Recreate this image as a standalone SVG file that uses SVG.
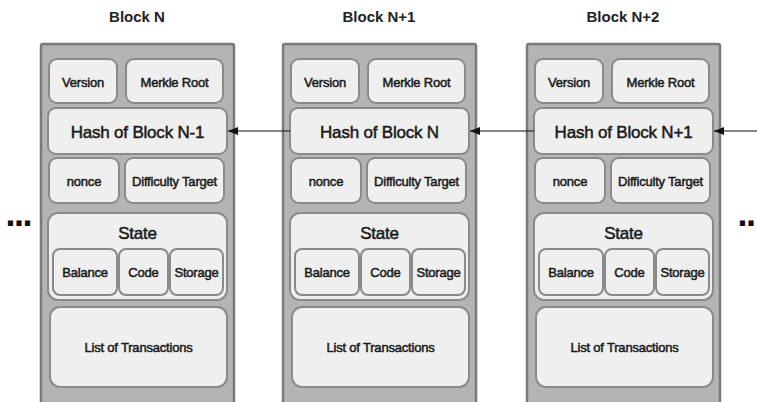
<svg xmlns="http://www.w3.org/2000/svg" width="757" height="402" viewBox="0 0 757 402">
  <defs>
    <style>
      .title { font-family: "Liberation Sans", Arial, sans-serif; font-size: 15px; font-weight: bold; fill: #222; text-anchor: middle; }
      .frame { fill: #b4b4b4; stroke: #7a7a7a; stroke-width: 2.5; }
      .field { fill: #efefef; stroke: #8a8a8a; stroke-width: 2; }
      .lbl { font-family: "Liberation Sans", Arial, sans-serif; font-size: 13px; fill: #1a1a1a; stroke: #1a1a1a; stroke-width: 0.5; text-anchor: middle; letter-spacing: -0.2px; }
      .big { font-size: 17px; }
      .dots { font-family: "Liberation Sans", Arial, sans-serif; font-size: 36px; font-weight: bold; fill: #111; letter-spacing: -1.5px; }
      .link { stroke: #111; stroke-width: 1.2; fill: none; marker-end: url(#head); }
    </style>
    <marker id="head" viewBox="0 0 10 8" refX="10" refY="4" markerWidth="10" markerHeight="8" markerUnits="userSpaceOnUse" orient="auto">
      <path d="M0,0 L10,4 L0,8 z" fill="#111"/>
    </marker>
    <!-- one block: header fields, state, transactions -->
    <g id="blockBody">
      <rect class="frame" x="41" y="44" width="193" height="360" rx="2"/>
      <rect class="field" x="49" y="59" width="68" height="44" rx="8"/>
      <rect class="field" x="126" y="59" width="97" height="44" rx="8"/>
      <rect class="field" x="48" y="108" width="179" height="46" rx="8"/>
      <rect class="field" x="49" y="158" width="70" height="45" rx="8"/>
      <rect class="field" x="125" y="158" width="99" height="45" rx="8"/>
      <rect class="field" x="48" y="213" width="179" height="87" rx="10"/>
      <rect class="field" x="53" y="249" width="64" height="46" rx="7"/>
      <rect class="field" x="119" y="249" width="49" height="46" rx="7"/>
      <rect class="field" x="170" y="249" width="53" height="46" rx="7"/>
      <rect class="field" x="50" y="307" width="177" height="80" rx="10"/>
    </g>
  </defs>

  <rect width="757" height="402" fill="#ffffff"/>

  <!-- Block N -->
  <g id="block-n">
    <text class="title" x="137" y="22">Block N</text>
    <use href="#blockBody"/>
    <g id="n-version"><text class="lbl" x="83" y="87">Version</text></g>
    <g id="n-merkle"><text class="lbl" x="174.5" y="87">Merkle Root</text></g>
    <g id="n-hash"><text class="lbl big" x="137.5" y="138">Hash of Block N-1</text></g>
    <g id="n-nonce"><text class="lbl" x="84" y="186">nonce</text></g>
    <g id="n-difficulty"><text class="lbl" x="174.5" y="186">Difficulty Target</text></g>
    <g id="n-state"><text class="lbl big" x="137.5" y="239">State</text></g>
    <g id="n-balance"><text class="lbl" x="85" y="277">Balance</text></g>
    <g id="n-code"><text class="lbl" x="143.5" y="277">Code</text></g>
    <g id="n-storage"><text class="lbl" x="196.5" y="277">Storage</text></g>
    <g id="n-txs"><text class="lbl" x="138.5" y="352">List of Transactions</text></g>
  </g>

  <!-- Block N+1 -->
  <g id="block-n1" transform="translate(242,0)">
    <text class="title" x="137" y="22">Block N+1</text>
    <use href="#blockBody"/>
    <g id="n1-version"><text class="lbl" x="83" y="87">Version</text></g>
    <g id="n1-merkle"><text class="lbl" x="174.5" y="87">Merkle Root</text></g>
    <g id="n1-hash"><text class="lbl big" x="137.5" y="138">Hash of Block N</text></g>
    <g id="n1-nonce"><text class="lbl" x="84" y="186">nonce</text></g>
    <g id="n1-difficulty"><text class="lbl" x="174.5" y="186">Difficulty Target</text></g>
    <g id="n1-state"><text class="lbl big" x="137.5" y="239">State</text></g>
    <g id="n1-balance"><text class="lbl" x="85" y="277">Balance</text></g>
    <g id="n1-code"><text class="lbl" x="143.5" y="277">Code</text></g>
    <g id="n1-storage"><text class="lbl" x="196.5" y="277">Storage</text></g>
    <g id="n1-txs"><text class="lbl" x="138.5" y="352">List of Transactions</text></g>
  </g>

  <!-- Block N+2 -->
  <g id="block-n2" transform="translate(486,0)">
    <text class="title" x="137" y="22">Block N+2</text>
    <use href="#blockBody"/>
    <g id="n2-version"><text class="lbl" x="83" y="87">Version</text></g>
    <g id="n2-merkle"><text class="lbl" x="174.5" y="87">Merkle Root</text></g>
    <g id="n2-hash"><text class="lbl big" x="137.5" y="138">Hash of Block N+1</text></g>
    <g id="n2-nonce"><text class="lbl" x="84" y="186">nonce</text></g>
    <g id="n2-difficulty"><text class="lbl" x="174.5" y="186">Difficulty Target</text></g>
    <g id="n2-state"><text class="lbl big" x="137.5" y="239">State</text></g>
    <g id="n2-balance"><text class="lbl" x="85" y="277">Balance</text></g>
    <g id="n2-code"><text class="lbl" x="143.5" y="277">Code</text></g>
    <g id="n2-storage"><text class="lbl" x="196.5" y="277">Storage</text></g>
    <g id="n2-txs"><text class="lbl" x="138.5" y="352">List of Transactions</text></g>
  </g>

  <!-- continuation marks -->
  <g id="more-left"><text class="dots" x="5.5" y="226">...</text></g>
  <g id="more-right"><text class="dots" x="737.5" y="226">..</text></g>

  <!-- hash links pointing back to the previous block -->
  <g id="links">
    <line class="link" x1="290" y1="131" x2="228" y2="131"/>
    <line class="link" x1="534" y1="131" x2="470" y2="131"/>
    <line class="link" x1="757" y1="131" x2="714" y2="131"/>
  </g>
</svg>
